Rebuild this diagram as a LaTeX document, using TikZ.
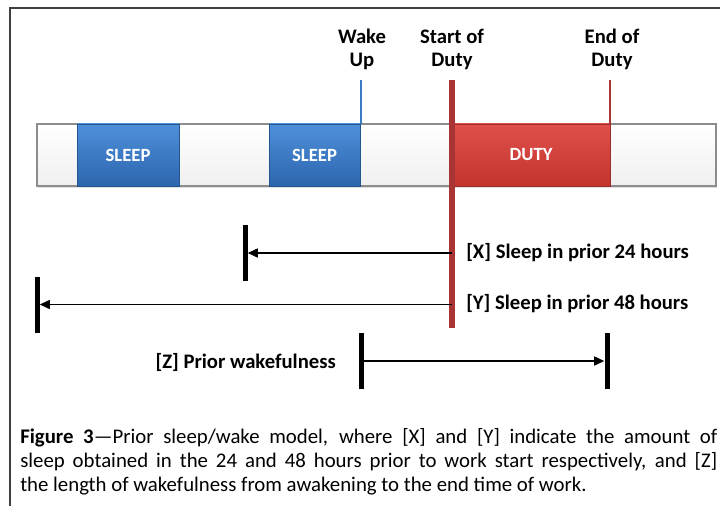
\documentclass[tikz,border=0pt]{standalone}
\usepackage{fontspec}
\setmainfont{Carlito}
\usetikzlibrary{arrows.meta, positioning, shadows}
\newdimen\px
\px=0.75pt
\definecolor{sleepdk}{HTML}{22568F}
\definecolor{sleeplt}{HTML}{4F8FDA}
\definecolor{sleepmd}{HTML}{2C66AE}
\definecolor{dutydk}{HTML}{9E2C2A}
\definecolor{dutylt}{HTML}{E0504A}
\definecolor{dutymd}{HTML}{C3342F}
\definecolor{wakeblue}{HTML}{3A7CC4}
\definecolor{startred}{HTML}{A83434}

\begin{document}
\begin{tikzpicture}[
    x=\px, y=-\px,
    frame/.style={draw=black!75, line width=2\px},
    bar/.style={draw=black!45, line width=1.2\px, top color=white, bottom color=black!6, minimum width=679\px, minimum height=62\px, inner sep=0pt, drop shadow={opacity=0.25, shadow xshift=1\px, shadow yshift=-2\px}},
    sleep/.style={draw=sleepdk, top color=sleeplt, bottom color=sleepmd, minimum height=62\px, inner sep=0pt, text=white, font=\fontsize{14}{16}\selectfont\bfseries},
    duty/.style={draw=dutydk, top color=dutylt, bottom color=dutymd, minimum height=62\px, inner sep=0pt, text=white, font=\fontsize{14}{16}\selectfont\bfseries},
    lbl/.style={align=center, inner sep=0pt, font=\fontsize{15.5}{17.25}\selectfont\bfseries},
    note/.style={inner sep=0pt, font=\fontsize{15.5}{17.25}\selectfont\bfseries},
    tick/.style={fill=black, minimum width=5\px, minimum height=56\px, inner sep=0pt},
    arrow/.style={-{Triangle[length=7.5pt, width=6.75pt]}, line width=1.5\px}
]
    \useasboundingbox (0,0) rectangle (720,506);
    \draw[frame] (10,506) -- (10,8) -- (720,8);

    \node[bar] (timeline) at (376.5,155) {};
    \node[sleep, minimum width=102\px] (sleepa) at (128,155) {SLEEP};
    \node[sleep, minimum width=91\px] (sleepb) at (314.5,155) {SLEEP};
    \node[duty, minimum width=158\px] (duty) at (531,155) {DUTY};

    \node[lbl] (wakelbl) at (362,49) {Wake\\Up};
    \node[lbl] (startlbl) at (452,49) {Start of\\Duty};
    \node[lbl] (endlbl) at (612,49) {End of\\Duty};

    \coordinate (waketop) at (360.5,80);
    \coordinate (starttop) at (452,80);
    \coordinate (startbot) at (452,328);
    \coordinate (endtop) at (610,80);

    \draw[wakeblue, line width=2\px] (waketop) -- (waketop |- sleepb.north);
    \draw[startred, line width=2.5\px] (endtop) -- (endtop |- duty.north);
    \draw[startred, line width=6\px] (starttop) -- (startbot);

    \node[tick] (xbar) at (245,253) {};
    \node[tick] (ybar) at (37,304.5) {};
    \node[tick] (zleft) at (361,361) {};
    \node[tick] (zright) at (607,361) {};

    \draw[arrow] (startbot |- xbar) -- (xbar.east);
    \draw[arrow] (startbot |- ybar) -- (ybar.east);
    \draw[arrow] (zleft.east) -- (zright.west);

    \node[note, anchor=west] (xlbl) at (466,253) {[X] Sleep in prior 24 hours};
    \node[note, anchor=west] (ylbl) at (466,304) {[Y] Sleep in prior 48 hours};
    \node[note, anchor=east] (zlbl) at (336,362) {[Z] Prior wakefulness};

    \node[anchor=north west, inner sep=0pt, align=left, font=\fontsize{15.6}{18}\selectfont] (caption) at (20,428)
        {\makebox[697\px][s]{\textbf{Figure 3}—Prior sleep/wake model, where [X] and [Y] indicate the amount of}\\
         \makebox[697\px][s]{sleep obtained in the 24 and 48 hours prior to work start respectively, and [Z]}\\
         the length of wakefulness from awakening to the end time of work.};
\end{tikzpicture}
\end{document}
